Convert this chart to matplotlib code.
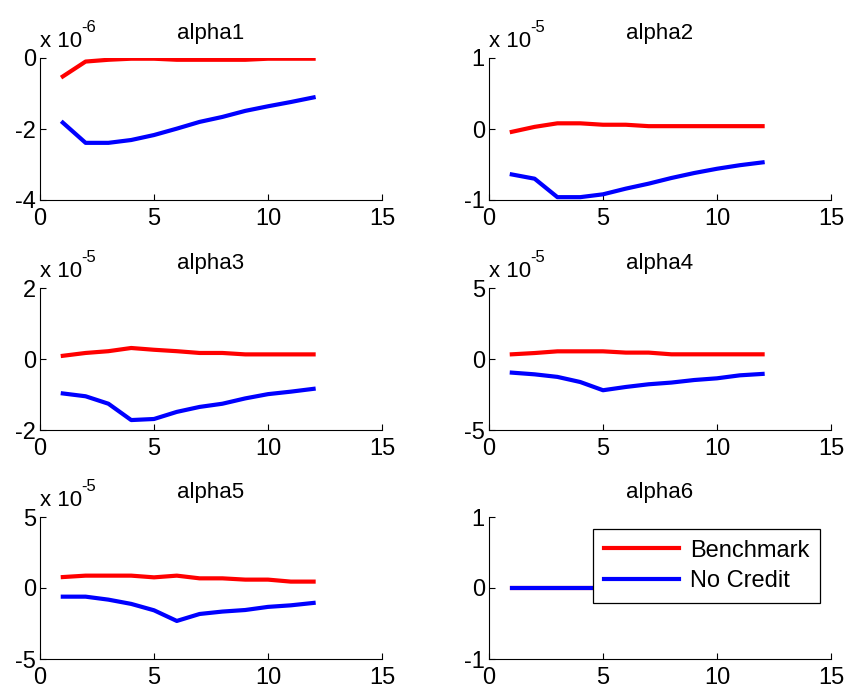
import numpy as np
import matplotlib
matplotlib.use("Agg")
import matplotlib.pyplot as plt

plt.rcParams['font.family'] = ['Liberation Sans', 'DejaVu Sans']

# horizon
periods = np.arange(1, 13)

# responses, in units of the scale shown above each panel
bench_1 = [-0.52, -0.10, -0.05, -0.02, -0.02, -0.05, -0.05, -0.05, -0.05, -0.02, -0.02, -0.02]
nocred_1 = [-1.82, -2.39, -2.39, -2.31, -2.17, -1.99, -1.80, -1.66, -1.49, -1.36, -1.24, -1.11]
bench_2 = [-0.04, 0.03, 0.08, 0.08, 0.06, 0.06, 0.04, 0.04, 0.04, 0.04, 0.04, 0.04]
nocred_2 = [-0.64, -0.70, -0.96, -0.96, -0.92, -0.84, -0.77, -0.69, -0.62, -0.56, -0.51, -0.47]
bench_3 = [0.09, 0.17, 0.22, 0.31, 0.26, 0.22, 0.17, 0.17, 0.13, 0.13, 0.13, 0.13]
nocred_3 = [-0.97, -1.05, -1.26, -1.72, -1.69, -1.49, -1.35, -1.26, -1.11, -0.99, -0.92, -0.84]
bench_4 = [0.33, 0.42, 0.54, 0.54, 0.54, 0.45, 0.45, 0.33, 0.33, 0.33, 0.33, 0.33]
nocred_4 = [-0.96, -1.08, -1.26, -1.62, -2.20, -1.97, -1.78, -1.66, -1.48, -1.36, -1.15, -1.05]
bench_5 = [0.77, 0.87, 0.87, 0.87, 0.75, 0.87, 0.68, 0.68, 0.59, 0.59, 0.45, 0.45]
nocred_5 = [-0.61, -0.61, -0.82, -1.12, -1.57, -2.32, -1.83, -1.66, -1.55, -1.33, -1.22, -1.05]
bench_6 = [0.0] * 12
nocred_6 = [0.0] * 12

titles = ["alpha1", "alpha2", "alpha3", "alpha4", "alpha5", "alpha6"]
benchmark = [bench_1, bench_2, bench_3, bench_4, bench_5, bench_6]
no_credit = [nocred_1, nocred_2, nocred_3, nocred_4, nocred_5, nocred_6]
exponents = ["-6", "-5", "-5", "-5", "-5", None]
ylims = [(-4, 0), (-1, 1), (-2, 2), (-5, 5), (-5, 5), (-1, 1)]

W, H = 848, 689
fig = plt.figure(figsize=(W / 100, H / 100), dpi=100)

col_left = [40, 489]
col_width = 342
row_top = [58, 288, 517]
row_height = 142

for i in range(6):
    r, c = divmod(i, 2)
    ax = fig.add_axes([col_left[c] / W, 1 - (row_top[r] + row_height) / H,
                       col_width / W, row_height / H])
    ax.plot(periods, benchmark[i], color='#ff0000', lw=3, label='Benchmark')
    ax.plot(periods, no_credit[i], color='#0000ff', lw=3, label='No Credit')
    ax.set_xlim(0, 15)
    ax.set_xticks([0, 5, 10, 15])
    lo, hi = ylims[i]
    ax.set_ylim(lo, hi)
    ax.set_yticks([lo, (lo + hi) / 2, hi])
    ax.set_yticklabels([f"{v:g}" for v in (lo, (lo + hi) / 2, hi)])
    ax.spines['top'].set_visible(False)
    ax.spines['right'].set_visible(False)
    for s in ('left', 'bottom'):
        ax.spines[s].set_linewidth(0.8)
    ax.tick_params(direction='in', length=4, width=0.8, labelsize=17)
    ax.tick_params(axis='x', pad=6)
    ax.tick_params(axis='y', pad=3)
    ax.set_title(titles[i], fontsize=16, pad=14)
    if exponents[i]:
        ax.text(0, 1.077, "x 10", transform=ax.transAxes, fontsize=16,
                ha='left', va='baseline')
        ax.text(41 / col_width, 1.18, exponents[i], transform=ax.transAxes,
                fontsize=12, ha='left', va='baseline')
    if i == 5:
        leg = ax.legend(loc='upper right', bbox_to_anchor=(0.968, 0.915),
                        borderaxespad=0, fontsize=17, fancybox=False,
                        handlelength=3.2, handletextpad=0.45,
                        labelspacing=0.35, borderpad=0.45)
        leg.get_frame().set_edgecolor('black')
        leg.get_frame().set_linewidth(0.9)
        leg.get_frame().set_alpha(1)

fig.savefig("out.png", dpi=100)
